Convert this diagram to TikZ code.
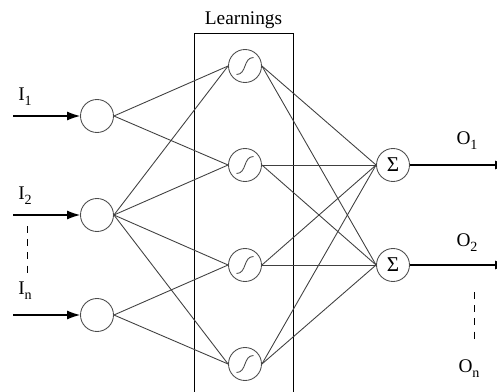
\documentclass[tikz,border=0pt]{standalone}
\usepackage{fontspec}
\setmainfont{Liberation Serif}
\usetikzlibrary{arrows.meta}
\newcommand{\lowsub}[1]{\raisebox{-0.55ex}{\footnotesize #1}}
\tikzset{
  every node/.style={font=\fontsize{11}{13}\selectfont},
  neuron/.style={circle,draw=black!70,line width=0.5pt,minimum size=0.66cm,inner sep=0pt},
  sigmoid/.style={neuron,path picture={
    \draw[line width=0.5pt,shift={(path picture bounding box.center)}]
      (-0.17cm,-0.17cm) .. controls (0.04cm,-0.17cm) and (-0.04cm,0.17cm) .. (0.17cm,0.17cm);}},
  link/.style={draw=black!75,line width=0.5pt},
  feed/.style={-{Latex[length=0.26cm,width=0.18cm]},line width=0.6pt},
  gap/.style={dashed,dash pattern=on 4pt off 3.5pt,line width=0.5pt}
}
\begin{document}
\begin{tikzpicture}[x=0.02cm,y=-0.02cm]
  \useasboundingbox (0,0) rectangle (497,392);
  % draw learnings box
  \node at(243.5,230)[rectangle,draw,line width=0.5pt,minimum width=1.98cm,minimum height=7.88cm](learnbox){};
  % draw "Learnings" text
  \node at(243.5,20)(learntext){Learnings};
  % draw input neurons
  \node at(97,116)[neuron](in1){};
  \node at(97,215)[neuron](in2){};
  \node at(97,315)[neuron](in3){};
  % draw hidden neurons
  \node at(245,66)[sigmoid](h1){};
  \node at(245,165)[sigmoid](h2){};
  \node at(245,265)[sigmoid](h3){};
  \node at(245,364)[sigmoid](h4){};
  % draw output neurons
  \node at(393,165)[neuron](out1){\fontsize{12}{14}\selectfont Σ};
  \node at(393,265)[neuron](out2){\fontsize{12}{14}\selectfont Σ};
  % draw input arrows
  \coordinate (src1) at (13,116);
  \coordinate (src2) at (13,215);
  \coordinate (src3) at (13,315);
  \draw [feed](src1) -- (in1);
  \draw [feed](src2) -- (in2);
  \draw [feed](src3) -- (in3);
  % draw input labels
  \node at(25,97)(lab1){I\lowsub{1}};
  \node at(25,196)(lab2){I\lowsub{2}};
  \node at(25,291)(lab3){I\lowsub{n}};
  \draw [gap](27,226) -- (27,278);
  % draw output arrows
  \coordinate (snk1) at (508,165);
  \coordinate (snk2) at (508,265);
  \draw [feed](out1) -- (snk1);
  \draw [feed](out2) -- (snk2);
  % draw output labels
  \node at(467,141)(olab1){O\lowsub{1}};
  \node at(467,243)(olab2){O\lowsub{2}};
  \node at(469,369)(olab3){O\lowsub{n}};
  \draw [gap](474,292) -- (474,343);
  % draw links from inputs to hidden neurons
  \foreach \i/\j in {1/1,1/2,2/1,2/2,2/3,2/4,3/3,3/4}
    \draw [link](in\i.east) -- (h\j.west);
  % draw links from hidden neurons to outputs
  \foreach \j in {1,...,4}
    \foreach \k in {1,2}
      \draw [link](h\j.east) -- (out\k.west);
\end{tikzpicture}
\end{document}
